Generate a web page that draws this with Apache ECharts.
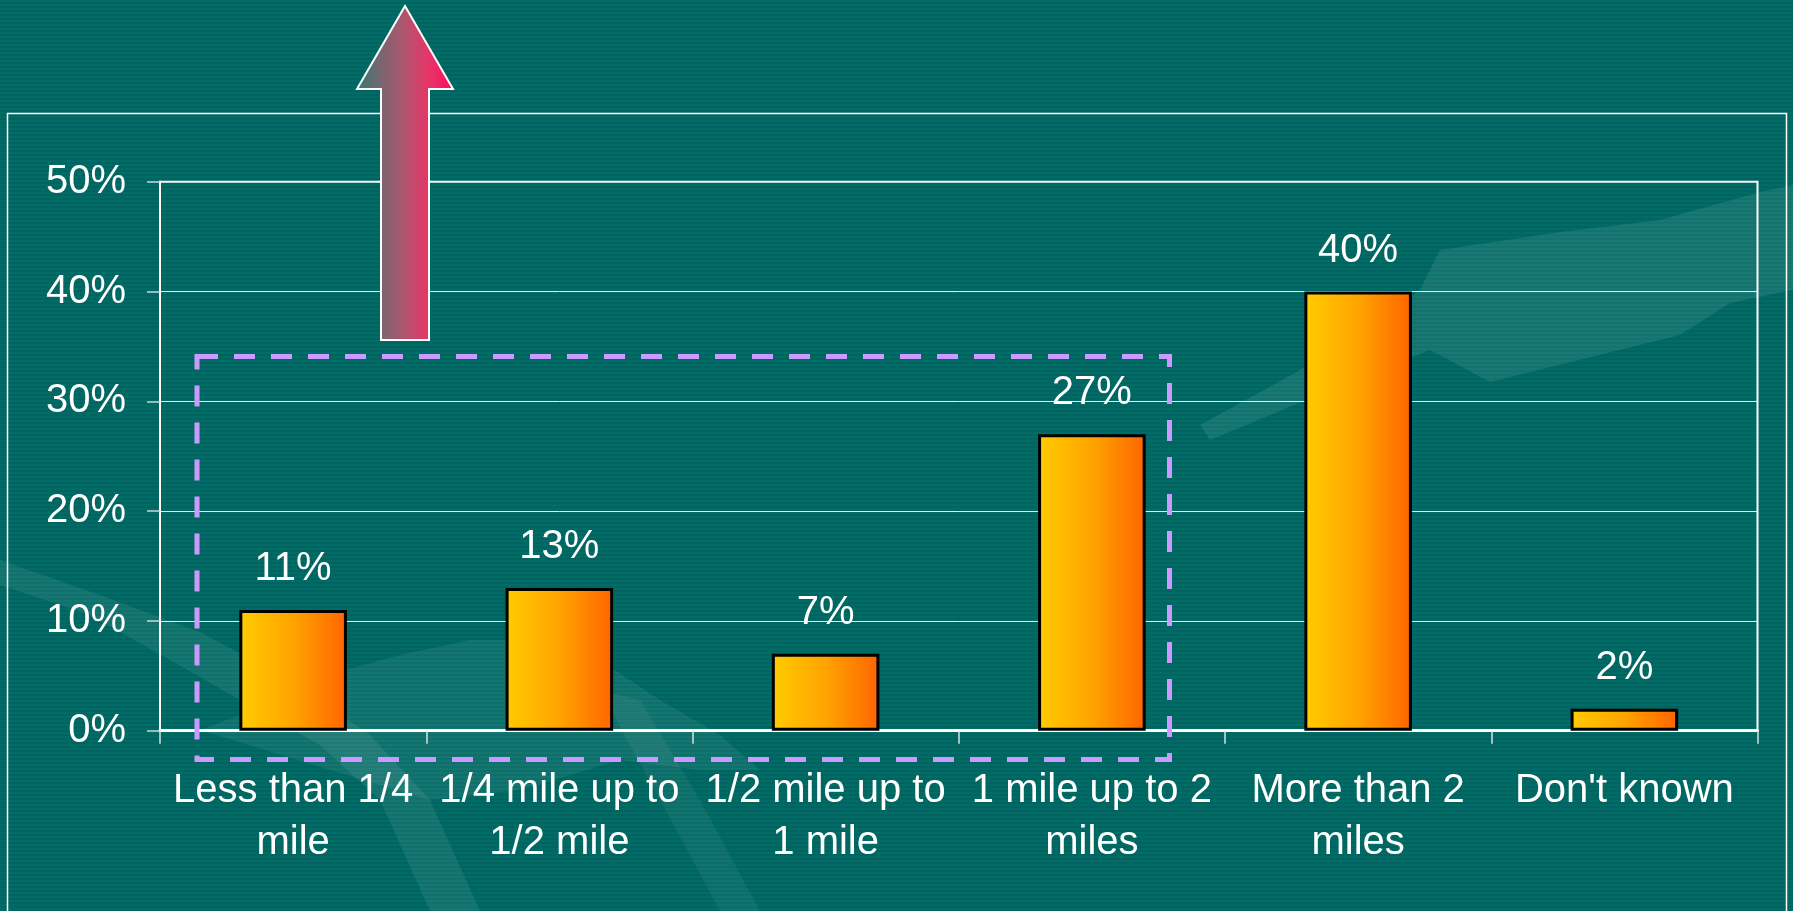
<!DOCTYPE html>
<html>
<head>
<meta charset="utf-8">
<script src="https://cdn.jsdelivr.net/npm/echarts@6/dist/echarts.min.js"></script>
<style>
  html, body { margin: 0; padding: 0; width: 1793px; height: 911px; overflow: hidden;
    background: repeating-linear-gradient(to bottom, #016c67 0px, #016c67 2px, #01645f 2px, #01645f 4px); }
  #chart { width: 1793px; height: 911px; }
</style>
</head>
<body>
<div id="chart"></div>
<script>
// ---- data ----
const categories = [
  "Less than 1/4\nmile",
  "1/4 mile up to\n1/2 mile",
  "1/2 mile up to\n1 mile",
  "1 mile up to 2\nmiles",
  "More than 2\nmiles",
  "Don't known"
];
const values = [11, 13, 7, 27, 40, 2];
const yTicks = [0, 10, 20, 30, 40, 50];

// ---- chart ----
const chart = echarts.init(document.getElementById('chart'), null, { renderer: 'canvas' });
const font = "'Liberation Sans', Arial, sans-serif";

const option = {
  backgroundColor: 'transparent',
  animation: false,
  grid: {
    left: 160, right: 35.5, top: 181.7, bottom: 180.3,
    show: true, borderColor: '#ffffff', borderWidth: 2, backgroundColor: 'transparent'
  },
  xAxis: {
    type: 'category',
    data: categories,
    boundaryGap: true,
    axisLine: { show: true, lineStyle: { color: '#ffffff', width: 3 } },
    axisTick: { show: true, length: 13, lineStyle: { color: '#d6e2e0', width: 1.5 } },
    axisLabel: {
      color: '#ffffff', fontFamily: font, fontSize: 40, lineHeight: 52,
      margin: 34, interval: 0
    },
    splitLine: { show: false }
  },
  yAxis: {
    type: 'value',
    min: yTicks[0], max: yTicks[yTicks.length - 1], interval: 10,
    axisLine: { show: true, lineStyle: { color: '#ffffff', width: 2 } },
    axisTick: { show: true, length: 13, lineStyle: { color: '#c9d8d6', width: 1.5 } },
    axisLabel: {
      color: '#ffffff', fontFamily: font, fontSize: 40, margin: 34,
      formatter: '{value}%'
    },
    splitLine: { show: true, lineStyle: { color: 'rgba(255,255,255,0.9)', width: 1 } }
  },
  series: [{
    type: 'bar',
    data: values,
    barWidth: '40.4%',
    itemStyle: {
      color: new echarts.graphic.LinearGradient(0, 0, 1, 0, [
        { offset: 0, color: '#ffcc00' },
        { offset: 0.5, color: '#ffa400' },
        { offset: 1, color: '#ff6400' }
      ]),
      borderColor: '#000000',
      borderWidth: 3
    },
    label: {
      show: true, position: 'top', distance: 21,
      color: '#ffffff', fontFamily: font, fontSize: 40,
      formatter: '{c}%'
    },
    z: 3
  }],
  graphic: [
    // background decorative swooshes
    {
      type: 'polygon', z: -10, silent: true,
      shape: { points: [[1200,425],[1300,370],[1420,290],[1440,250],[1560,232],[1660,220],[1760,192],[1793,185],[1793,290],[1730,303],[1680,335],[1490,382],[1430,350],[1330,390],[1210,440]] },
      style: { fill: 'rgba(255,255,255,0.09)' }
    },
    {
      type: 'polygon', z: -10, silent: true,
      shape: { points: [[0,585],[90,615],[170,660],[240,700],[320,745],[380,800],[430,911],[480,911],[430,800],[370,735],[290,680],[200,632],[100,595],[0,560]] },
      style: { fill: 'rgba(255,255,255,0.08)' }
    },
    {
      type: 'polygon', z: -10, silent: true,
      shape: { points: [[200,730],[280,700],[345,670],[400,655],[470,640],[540,640],[600,660],[660,700],[720,735],[760,770],[700,770],[620,760],[520,790],[430,800],[330,770]] },
      style: { fill: 'rgba(255,255,255,0.07)' }
    },
    {
      type: 'polygon', z: -10, silent: true,
      shape: { points: [[600,690],[640,700],[700,800],[760,911],[720,911],[660,800]] },
      style: { fill: 'rgba(255,255,255,0.06)' }
    },
    // outer frame
    {
      type: 'rect', z: 50, silent: true,
      shape: { x: 7.5, y: 113.5, width: 1779, height: 820 },
      style: { fill: null, stroke: '#ffffff', lineWidth: 1.5 }
    },
    // dashed highlight box
    {
      type: 'rect', z: 100, silent: true,
      shape: { x: 197, y: 356.5, width: 972.5, height: 403 },
      style: { fill: null, stroke: '#cc99ff', lineWidth: 5, lineDash: [21, 16] }
    },
    // arrow
    {
      type: 'polygon', z: 100, silent: true,
      shape: { points: [[405,6],[453,89],[429,89],[429,340],[381,340],[381,89],[357,89]] },
      style: {
        fill: new echarts.graphic.LinearGradient(0, 0, 1, 0, [
          { offset: 0, color: '#2f7c76' },
          { offset: 0.25, color: '#786670' },
          { offset: 0.5, color: '#b2546e' },
          { offset: 0.75, color: '#e83468' },
          { offset: 1, color: '#ff0a60' }
        ]),
        stroke: '#ffffff', lineWidth: 2
      }
    }
  ]
};
chart.setOption(option);
</script>
</body>
</html>
